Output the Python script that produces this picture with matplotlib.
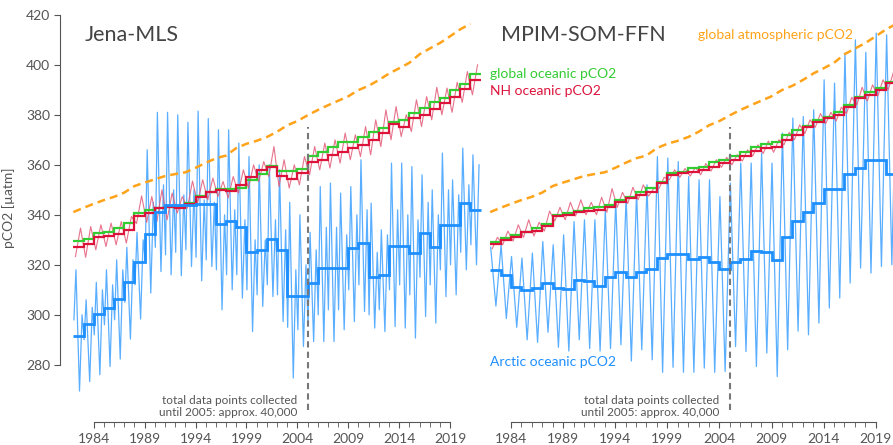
import numpy as np
import matplotlib
matplotlib.use("Agg")
import matplotlib.pyplot as plt
from matplotlib.ticker import FixedLocator

plt.rcParams["font.family"] = ["Lato", "DejaVu Sans"]

# ── data ────────────────────────────────────────────────────────────────────
years = np.arange(1982, 2022)

atm = [341.1, 342.8, 344.4, 345.9, 347.2, 348.9, 351.5, 352.9, 354.2, 355.5,
       356.3, 357.0, 358.8, 360.8, 362.6, 363.7, 366.7, 368.4, 369.6, 371.1,
       373.2, 375.8, 377.5, 379.8, 381.9, 383.8, 385.6, 387.4, 389.9, 391.6,
       393.9, 396.5, 398.6, 400.8, 404.2, 406.5, 408.7, 411.4, 414.2, 416.4]

# Jena-MLS
jena_glob = [329.7, 330.5, 332.7, 333.3, 334.9, 336.7, 340.7, 342.0, 342.8, 343.1,
             343.2, 344.7, 347.6, 349.0, 350.5, 350.3, 350.7, 354.0, 356.4, 359.6,
             357.5, 357.6, 358.5, 363.6, 365.0, 367.3, 369.3, 369.0, 371.3, 373.3,
             374.7, 377.3, 378.0, 380.7, 382.7, 385.0, 386.7, 390.0, 392.4, 396.4]
jena_nh = [327.3, 328.4, 331.3, 331.6, 332.4, 334.0, 339.6, 340.7, 342.7, 343.1,
           342.7, 344.4, 347.3, 349.3, 350.0, 349.7, 352.0, 355.3, 358.0, 359.0,
           355.6, 354.3, 356.7, 361.0, 362.0, 364.0, 365.3, 366.7, 368.0, 370.0,
           372.7, 376.4, 375.3, 378.7, 380.0, 382.3, 384.7, 387.3, 390.3, 394.0]
jena_nh_low = [323.3, 323.0, 326.0, 327.3, 328.0, 328.7, 336.5, 337.0, 337.3, 338.0,
               340.7, 342.7, 344.7, 346.0, 347.3, 346.7, 348.7, 350.7, 353.3, 355.3,
               351.3, 350.7, 352.0, 356.0, 358.0, 358.7, 360.7, 362.0, 363.3, 364.0,
               367.3, 370.0, 371.3, 373.3, 375.3, 378.0, 380.0, 381.0, 385.0, 388.0]
jena_nh_high = [334.7, 335.3, 336.0, 336.7, 337.3, 339.3, 347.6, 347.3, 350.0, 348.7,
                347.3, 353.5, 354.0, 354.7, 353.3, 355.3, 358.0, 360.0, 361.3, 367.3,
                362.0, 360.0, 363.3, 367.3, 368.7, 370.0, 372.7, 372.0, 375.3, 378.0,
                382.0, 383.3, 380.0, 386.0, 387.3, 391.0, 390.7, 393.0, 397.3, 400.0]
jena_arc = [291.7, 296.4, 300.4, 302.9, 306.4, 313.1, 321.3, 332.5, 341.0, 344.0,
            344.0, 344.0, 344.2, 344.4, 336.4, 337.6, 335.0, 325.3, 326.0, 330.3,
            326.0, 307.6, 307.6, 312.7, 318.9, 318.9, 318.9, 326.7, 328.7, 315.0,
            316.0, 327.7, 327.7, 324.9, 332.7, 327.0, 336.0, 336.0, 344.7, 342.0]
jena_arc_dip = [298, 290, 292, 296, 298, 305, 312, 322, 327, 324,
                325, 326, 323, 322, 318, 316, 316, 310, 308, 312,
                308, 295, 294, 296, 300, 302, 302, 310, 312, 300,
                302, 310, 312, 308, 315, 312, 318, 320, 325, 328]
jena_arc_peak = [318, 306, 313, 318, 322, 327, 333, 366, 381, 381,
                 380, 377, 381.5, 378.5, 374, 374, 368.7, 363.3, 360, 360,
                 358, 345, 340, 333, 351.3, 352.7, 348.7, 351.3, 362, 344.7,
                 334, 360.7, 360.7, 359.3, 356, 350, 364.7, 354, 366.7, 364]
jena_arc_low = [269.5, 273.3, 276, 279.3, 282.3, 290.3, 298.3, 308.7, 317.3, 316,
                315.6, 319.3, 313.6, 319.3, 302, 310, 306.7, 293.3, 303.3, 307.3,
                297.3, 274.7, 287.3, 289.3, 289.3, 289.3, 294, 297.3, 301.3, 294.7,
                293.3, 295.3, 294.7, 290.7, 299.3, 296.7, 307.3, 308, 318, 320]
jena_arc_bump = [300, 303, 310, 312, 318, 322, 330, 345, 352, 350,
                 348, 350, 346, 345, 340, 342, 338, 330, 330, 338,
                 334, 318, 320, 326, 335, 335, 332, 340, 342, 325,
                 332, 342, 340, 338, 345, 340, 350, 348, 352, 360]

# MPIM-SOM-FFN
som_glob = [329.3, 330.7, 332.0, 333.3, 334.7, 336.4, 340.0, 340.7, 341.7, 342.7,
            343.0, 344.0, 346.0, 347.3, 349.0, 350.7, 353.3, 356.7, 357.3, 358.7,
            359.3, 361.3, 362.0, 363.6, 365.0, 367.3, 368.4, 369.0, 372.0, 374.0,
            375.6, 378.0, 379.3, 381.0, 384.0, 387.3, 389.3, 390.7, 393.3, 396.0]
som_nh = [328.4, 330.0, 331.0, 333.0, 333.6, 335.6, 339.6, 340.0, 341.3, 341.7,
          342.0, 343.0, 345.0, 346.7, 348.0, 349.3, 352.7, 356.0, 356.7, 357.3,
          358.0, 359.3, 360.7, 362.0, 363.6, 365.7, 366.7, 367.3, 370.0, 372.0,
          375.0, 377.3, 378.7, 380.0, 383.0, 386.7, 388.0, 390.0, 392.7, 395.0]
som_nh_low = [326.5, 328, 329.5, 331, 331.5, 333.5, 337.5, 338, 339.5, 340,
              340, 341, 343, 344.5, 346, 347.5, 350.5, 354, 355, 355.5,
              356, 357.5, 359, 360, 361.5, 363.5, 364.5, 365, 368, 370,
              372.5, 375, 376.5, 377.5, 380.5, 384, 385.5, 387.5, 390, 392]
som_nh_high = [331, 333.5, 336, 338, 337, 341.5, 343, 345, 346, 345,
               347, 350.5, 349, 351, 352, 350.5, 355, 358, 358.5, 359,
               360.5, 362, 363, 364, 366, 368, 369.5, 370, 373, 376,
               378, 380.5, 381, 383, 387, 391, 392, 394, 397, 399]
som_arc = [318.0, 316.0, 311.3, 310.0, 310.7, 312.9, 310.9, 310.3, 314.0, 313.7,
           311.6, 315.3, 317.3, 315.3, 317.0, 318.5, 322.9, 324.4, 324.4, 322.5,
           323.3, 321.3, 318.4, 321.0, 322.4, 325.7, 325.3, 322.1, 331.0, 337.5,
           341.3, 344.7, 350.3, 350.3, 356.4, 358.7, 362.0, 362.0, 356.4, 356.0]
som_arc_peak = [327, 328, 323.3, 322.7, 324.7, 329.3, 328, 332, 337.3, 338,
                338, 342, 345.3, 347.3, 349.3, 352, 363.3, 362.7, 361.3, 355.3,
                354, 354, 347.3, 352.7, 360.7, 360.7, 364.7, 360.7, 372.7, 378.7,
                379.3, 382, 394, 392.7, 404.7, 410, 405, 412.7, 412, 412]
som_arc_low = [303.5, 298.5, 295, 290, 289, 293, 287, 285.5, 290, 286.5,
               285.5, 286.5, 288, 281.5, 286, 282, 277, 279, 277, 277,
               278.7, 277, 277.3, 287.3, 285.3, 279.3, 284.7, 275.3, 286, 293.5,
               292, 296.7, 302.7, 306.7, 312.7, 318.7, 316.7, 319.3, 320, 320]

# time of the seasonal extremes within a year (fraction of year)
NH_LOW_T, NH_HIGH_T = 0.2, 0.7
ARC4_T = [0.05, 0.25, 0.6, 0.85]       # Jena: dip, peak, low, bump
ARC2_T = [0.05, 0.55]                  # SOM-FFN: winter peak, summer low

C_ATM = "#FFA31A"
C_GLOB = "#33CC33"
C_NH = "#DC143C"
C_NH_THIN = "#E35A78"
C_ARC = "#1E8FFF"
C_ARC_THIN = "#5AAEFF"
C_TXT = "#555555"


def seasonal(times, *series):
    x = np.column_stack([years + t for t in times]).ravel()
    y = np.column_stack(series).ravel()
    return x, y


def draw_panel(ax, glob, nh, nh_low, nh_high, arc, arc_x, arc_y):
    edges = np.append(years, years[-1] + 1)
    ax.plot(arc_x, arc_y, color=C_ARC_THIN, lw=0.9, zorder=1)
    nx, ny = seasonal([NH_LOW_T, NH_HIGH_T], nh_low, nh_high)
    ax.plot(nx, ny, color=C_NH_THIN, lw=0.8, alpha=0.85, zorder=2)
    ax.stairs(glob, edges, baseline=None, color=C_GLOB, lw=1.6, zorder=3)
    ax.stairs(nh, edges, baseline=None, color=C_NH, lw=1.6, zorder=4)
    ax.stairs(arc, edges, baseline=None, color=C_ARC, lw=2.0, zorder=5)
    ax.plot(years, atm, color=C_ATM, lw=1.8, ls=(0, (3.2, 2.0)), zorder=6)
    ax.plot([2005, 2005], [262, 375], color="#777777", lw=1.5,
            ls=(0, (3, 2)), zorder=7)

    ax.set_ylim(257, 425)
    ax.set_facecolor("none")
    for s in ["top", "right"]:
        ax.spines[s].set_visible(False)
    ax.spines["bottom"].set_bounds(1984, 2019)
    ax.spines["bottom"].set_color(C_TXT)
    ax.xaxis.set_major_locator(FixedLocator(range(1984, 2020, 5)))
    ax.xaxis.set_minor_locator(FixedLocator(range(1984, 2020)))
    ax.tick_params(axis="x", which="both", colors=C_TXT, labelsize=10, pad=4)
    ax.tick_params(axis="x", which="major", length=4)
    ax.tick_params(axis="x", which="minor", length=3.5)

    ax.text(2004.0, 264.5, "total data points collected", ha="right",
            va="baseline", fontsize=8.5, color=C_TXT)
    ax.text(2004.0, 259.5, "until 2005: approx. 40,000", ha="right",
            va="baseline", fontsize=8.5, color=C_TXT)


fig = plt.figure(figsize=(8.93, 4.45), dpi=100)
# left panel: 10.18 px per year, right panel: 10.42 px per year
ax1 = fig.add_axes([0.0708, 0.051, 0.4685, 0.9438])
ax2 = fig.add_axes([0.5454, 0.051, 0.4714, 0.9438])
ax1.set_xlim(1981, 2022.1)
ax2.set_xlim(1981.7, 2022.1)

jx, jy = seasonal(ARC4_T, jena_arc_dip, jena_arc_peak, jena_arc_low, jena_arc_bump)
draw_panel(ax1, jena_glob, jena_nh, jena_nh_low, jena_nh_high, jena_arc, jx, jy)
sx, sy = seasonal(ARC2_T, som_arc_peak, som_arc_low)
draw_panel(ax2, som_glob, som_nh, som_nh_low, som_nh_high, som_arc, sx, sy)

# left panel y axis
ax1.spines["left"].set_bounds(280, 420)
ax1.spines["left"].set_position(("outward", 2))
ax1.spines["left"].set_color(C_TXT)
ax1.yaxis.set_major_locator(FixedLocator(range(280, 421, 20)))
ax1.tick_params(axis="y", colors=C_TXT, labelsize=10, length=4)
ax1.set_ylabel("pCO2 [µatm]", fontsize=10, color=C_TXT)
ax1.yaxis.set_label_coords(-0.115, 0.51)

# right panel: no y axis
ax2.spines["left"].set_visible(False)
ax2.tick_params(axis="y", left=False, labelleft=False)

ax1.text(1983.15, 409.7, "Jena-MLS", fontsize=15.5, color="#444444", va="baseline")
ax2.text(1983.0, 409.6, "MPIM-SOM-FFN", fontsize=15.5, color="#444444", va="baseline")
ax2.text(1982.0, 394.8, "global oceanic pCO2", fontsize=10, color=C_GLOB, va="baseline")
ax2.text(1982.0, 388.1, "NH oceanic pCO2", fontsize=10, color=C_NH, va="baseline")
ax2.text(2001.95, 410.4, "global atmospheric pCO2", fontsize=10, color=C_ATM, va="baseline")
ax2.text(1982.0, 279.7, "Arctic oceanic pCO2", fontsize=10, color=C_ARC, va="baseline")

fig.savefig("out.png", dpi=100)
